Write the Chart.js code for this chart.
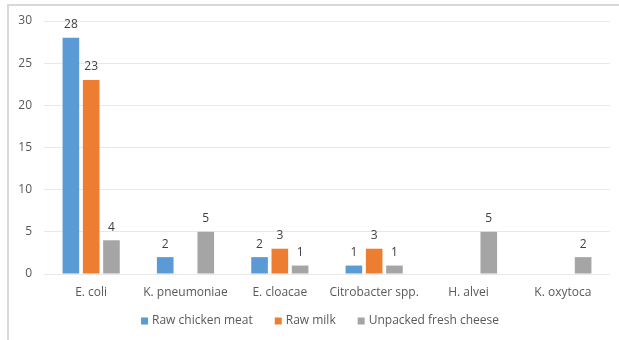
<!DOCTYPE html>
<html>
<head>
<meta charset="utf-8">
<script src="https://cdn.jsdelivr.net/npm/chart.js@4"></script>
<style>
  html, body { margin: 0; padding: 0; background: #fff; }
  #wrap { position: relative; width: 619px; height: 340px; }
</style>
</head>
<body>
<div id="wrap"><canvas id="isolatesChart" width="619" height="340"></canvas></div>
<script>
const categories = ["E. coli", "K. pneumoniae", "E. cloacae", "Citrobacter spp.", "H. alvei", "K. oxytoca"];
const chickenMeat = [28, 2, 2, 1, null, null];
const rawMilk = [23, null, 3, 3, null, null];
const freshCheese = [4, 5, 1, 1, 5, 2];
const yTicks = [0, 5, 10, 15, 20, 25, 30];

const FONT = "'Open Sans', 'Liberation Sans', sans-serif";
const TEXT = "#595959";

// ---- frame lines (top + left) ----
const framePlugin = {
  id: "frame",
  beforeDraw(chart) {
    const c = chart.ctx;
    c.save();
    c.strokeStyle = "#d9d9d9";
    c.lineWidth = 2;
    c.beginPath();
    c.moveTo(8, 340);
    c.lineTo(8, 5);
    c.lineTo(619, 5);
    c.stroke();
    c.restore();
  },
};

// ---- value labels above bars ----
const valueLabels = {
  id: "valueLabels",
  afterDatasetsDraw(chart) {
    const c = chart.ctx;
    c.save();
    c.font = "12px " + FONT;
    c.fillStyle = "#404040";
    c.textAlign = "center";
    c.textBaseline = "middle";
    chart.data.datasets.forEach((ds, i) => {
      const meta = chart.getDatasetMeta(i);
      meta.data.forEach((bar, j) => {
        const v = ds.data[j];
        if (v === null || v === undefined) return;
        c.fillText(String(v), bar.x, bar.y - 13);
      });
    });
    c.restore();
  },
};

// ---- legend drawn under the axis ----
const bottomLegend = {
  id: "bottomLegend",
  afterDraw(chart) {
    const c = chart.ctx;
    const box = 7, gapText = 4, gapItem = 22, cy = 321;
    c.save();
    c.font = "12px " + FONT;
    const items = chart.data.datasets.map((ds) => ({
      label: ds.label,
      color: ds.backgroundColor,
      w: c.measureText(ds.label).width,
    }));
    let total = 0;
    items.forEach((it, i) => {
      total += box + gapText + it.w + (i < items.length - 1 ? gapItem : 0);
    });
    let x = 320 - total / 2;
    c.textBaseline = "middle";
    c.textAlign = "left";
    items.forEach((it) => {
      c.fillStyle = it.color;
      c.fillRect(x, cy - box / 2, box, box);
      x += box + gapText;
      c.fillStyle = TEXT;
      c.fillText(it.label, x, cy);
      x += it.w + gapItem;
    });
    c.restore();
  },
};

const ctx = document.getElementById("isolatesChart").getContext("2d");
const isolatesChart = new Chart(ctx, {
  type: "bar",
  data: {
    labels: categories,
    datasets: [
      { label: "Raw chicken meat", data: chickenMeat, backgroundColor: "#5b9bd5" },
      { label: "Raw milk", data: rawMilk, backgroundColor: "#ed7d31" },
      { label: "Unpacked fresh cheese", data: freshCheese, backgroundColor: "#a5a5a5" },
    ],
  },
  options: {
    responsive: false,
    animation: false,
    layout: { padding: { top: 21, right: 9, bottom: 30, left: 0 } },
    datasets: {
      bar: { categoryPercentage: 0.645, barPercentage: 0.82, borderWidth: 0 },
    },
    plugins: {
      legend: { display: false },
      tooltip: { enabled: false },
    },
    scales: {
      x: {
        grid: { display: false, drawTicks: false },
        border: { display: false },
        ticks: { color: TEXT, font: { family: FONT, size: 12 }, padding: 11, maxRotation: 0 },
        afterFit: (scale) => { scale.height = 36; },
      },
      y: {
        min: 0,
        max: 30,
        afterBuildTicks: (scale) => { scale.ticks = yTicks.map((v) => ({ value: v })); },
        grid: { color: "#e8e8e8", drawTicks: false },
        border: { display: false },
        ticks: { color: TEXT, font: { family: FONT, size: 12 }, padding: 12 },
        afterFit: (scale) => { scale.width = 44; },
      },
    },
  },
  plugins: [framePlugin, valueLabels, bottomLegend],
});
</script>
</body>
</html>
